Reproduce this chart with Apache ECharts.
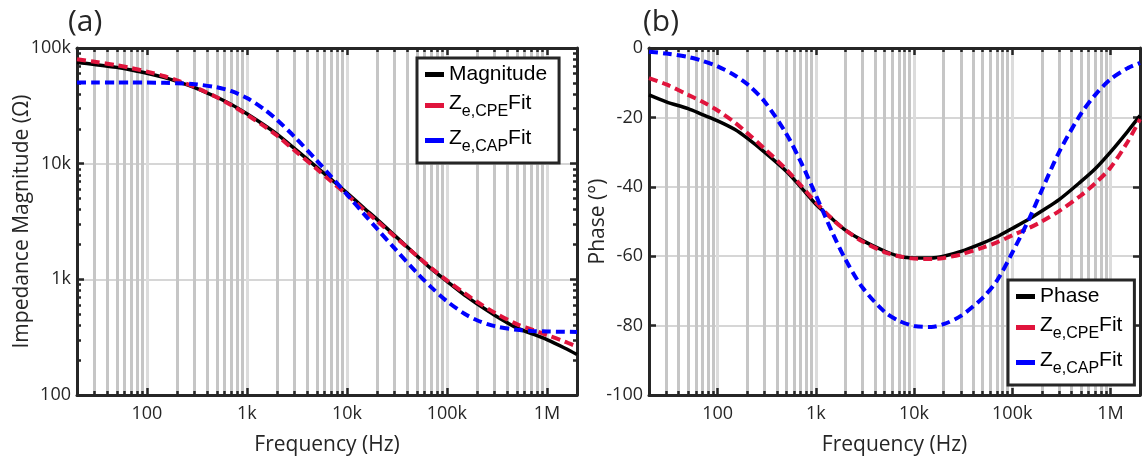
<!DOCTYPE html>
<html><head><meta charset="utf-8">
<script src="https://cdn.jsdelivr.net/npm/echarts@6/dist/echarts.min.js"></script>
<style>html,body{margin:0;padding:0;background:#fff}#c{width:1143px;height:464px}</style>
</head><body><div id="c"></div>
<script>
// ---- data ----
const frequencyHz = [20, 30, 50, 70, 100, 150, 200, 300, 500, 700, 1000, 1500, 2000, 3000, 5000, 7000, 10000, 15000, 20000, 30000, 50000, 70000, 100000, 150000, 200000, 300000, 500000, 700000, 1000000, 1500000, 2000000];
const magnitudeOhm = [75000, 72000, 68000, 64500, 60500, 55500, 51500, 45500, 37500, 32500, 27000, 21500, 18000, 13500, 9300, 7300, 5600, 4100, 3300, 2400, 1600, 1230, 960, 730, 615, 490, 380, 340, 301, 255, 224];
const cpeFitMagnitudeOhm = [80000, 76000, 71000, 67000, 62500, 57000, 52500, 46000, 37500, 32000, 26500, 21000, 17500, 13000, 9000, 7000, 5400, 3950, 3200, 2350, 1600, 1250, 980, 760, 640, 515, 410, 370, 330, 290, 262];
const capFitMagnitudeOhm = [50400, 50400, 50300, 50300, 50200, 49950, 49600, 48700, 45700, 42300, 36960, 29400, 23900, 17060, 10640, 7690, 5420, 3630, 2740, 1850, 1140, 852, 647, 504, 443, 394, 366, 358, 354, 352, 351];
const phaseDeg = [-13.5, -15.5, -17.5, -19.2, -21, -23.5, -26, -30, -35.5, -40, -45, -49.5, -52.5, -55.5, -58.5, -60, -60.5, -60.5, -60, -58.6, -56.2, -54.4, -52, -49.2, -47, -43.7, -38.5, -34.8, -30, -24, -19.5];
const cpeFitPhaseDeg = [-8.7, -10.5, -13.5, -15.5, -18, -21.5, -24.5, -29, -35, -39.5, -44.5, -49.5, -52.5, -55.8, -58.8, -60, -60.7, -60.8, -60.5, -59.5, -57.5, -56, -54, -51.8, -50, -47, -42.5, -39, -34.5, -27, -20.5];
const capFitPhaseDeg = [-1.05, -1.6, -2.6, -3.7, -5.3, -7.9, -10.4, -15.4, -24.7, -32.7, -42.4, -53.7, -60.9, -69.1, -76, -78.6, -80.1, -80.4, -79.6, -77.2, -72, -67, -59, -49, -41, -30, -19, -13.5, -9, -5.8, -4.3];
const frequencyTickLabels = {100: '100', 1000: '1k', 10000: '10k', 100000: '100k', 1000000: '1M'};
const magnitudeTickLabels = {100: '100', 1000: '1k', 10000: '10k', 100000: '100k'};
const panelTitles = ['(a)', '(b)'];

// ---- styles ----
const AX = '#262626';
const FONT = '"Open Sans", "Noto Sans", sans-serif';
const LEGFONT = '"Liberation Sans", Arial, sans-serif';
const RED = '#e0143c', BLUE = '#0000ff';
function pick(map) { return v => { for (const key in map) { if (Math.abs(+key - v) / +key < 1e-6) return map[key]; } return ''; }; }

function freqAxis(gridIndex, top) {
  return {
    type: 'log', logBase: 10, gridIndex, min: 20, max: 2000000,
    position: top ? 'top' : 'bottom',
    axisLine: {show: true, onZero: false, lineStyle: {color: AX, width: 3}},
    axisTick: {show: true, inside: true, length: 7, lineStyle: {color: AX, width: 2.5}},
    minorTick: {show: true, splitNumber: 9, length: 4, lineStyle: {color: AX, width: 2.5}},
    splitLine: {show: !top, lineStyle: {color: '#dcdcdc', width: 3}},
    minorSplitLine: {show: !top, lineStyle: {color: '#c6c6c6', width: 3}},
    axisLabel: {show: !top, formatter: pick(frequencyTickLabels), fontFamily: FONT, fontSize: 18, color: AX, margin: 10},
    name: top ? '' : 'Frequency (Hz)', nameLocation: 'middle', nameGap: 40,
    nameTextStyle: {fontFamily: FONT, fontSize: 21, color: AX}
  };
}
function magAxis(right) {
  return {
    type: 'log', logBase: 10, gridIndex: 0, min: 100, max: 100000,
    position: right ? 'right' : 'left',
    axisLine: {show: true, onZero: false, lineStyle: {color: AX, width: 3}},
    axisTick: {show: true, inside: true, length: 7, lineStyle: {color: AX, width: 2.5}},
    minorTick: {show: true, splitNumber: 9, length: 4, lineStyle: {color: AX, width: 2.5}},
    splitLine: {show: !right, lineStyle: {color: '#d6d6d6', width: 2}},
    axisLabel: {show: !right, formatter: pick(magnitudeTickLabels), fontFamily: FONT, fontSize: 18, color: AX, margin: 6},
    name: right ? '' : 'Impedance Magnitude (Ω)', nameLocation: 'middle', nameGap: 44, nameMoveOverlap: false,
    nameTextStyle: {fontFamily: FONT, fontSize: 21, color: AX}
  };
}
function phaseAxis(right) {
  return {
    type: 'value', gridIndex: 1, min: -100, max: 0, interval: 20,
    position: right ? 'right' : 'left',
    axisLine: {show: true, onZero: false, lineStyle: {color: AX, width: 3}},
    axisTick: {show: true, inside: true, length: 7, lineStyle: {color: AX, width: 2.5}},
    splitLine: {show: !right, lineStyle: {color: '#d6d6d6', width: 2}},
    axisLabel: {show: !right, fontFamily: FONT, fontSize: 18, color: AX, margin: 6},
    name: right ? '' : 'Phase (°)', nameLocation: 'middle', nameGap: 40, nameMoveOverlap: false,
    nameTextStyle: {fontFamily: FONT, fontSize: 21, color: AX}
  };
}
function pairs(ys) { return frequencyHz.map((f, i) => [f, ys[i]]); }
function line(name, xi, yi, ys, color, dashed, w) {
  return {
    name, type: 'line', xAxisIndex: xi, yAxisIndex: yi, data: pairs(ys),
    showSymbol: false, symbol: 'none', smooth: 0.3, animation: false, z: dashed ? 3 : 2,
    lineStyle: {color, width: w, type: dashed ? [9, 5] : 'solid'}, itemStyle: {color}
  };
}
const legendLabels = {
  'Magnitude': '{m|Magnitude}', 'Phase': '{m|Phase}',
  'Ze,CPE Fit (magnitude)': '{z|Z}{s|e,CPE}{z|Fit}', 'Ze,CAP Fit (magnitude)': '{z|Z}{s|e,CAP}{z|Fit}',
  'Ze,CPE Fit (phase)': '{z|Z}{s|e,CPE}{z|Fit}', 'Ze,CAP Fit (phase)': '{z|Z}{s|e,CAP}{z|Fit}'
};
function legend(names, left, top) {
  return {
    data: names, left, top, orient: 'vertical', selectedMode: false,
    backgroundColor: '#fff', borderColor: AX, borderWidth: 3, borderRadius: 0,
    padding: [6, 12, 8, 8], itemGap: 8, icon: 'rect', itemWidth: 19, itemHeight: 5,
    formatter: n => legendLabels[n],
    textStyle: {fontFamily: LEGFONT, color: '#000', fontSize: 21, rich: {
      m: {fontFamily: LEGFONT, fontSize: 21, color: '#000'},
      z: {fontFamily: LEGFONT, fontSize: 21, color: '#000', padding: [0, 0, 4, 0]},
      s: {fontFamily: LEGFONT, fontSize: 16, color: '#000', padding: [13, 0, 0, 0]}
    }}
  };
}
const chart = echarts.init(document.getElementById('c'), null, {renderer: 'canvas'});
chart.setOption({
  backgroundColor: '#fff', animation: false,
  title: [
    {text: panelTitles[0], left: 63, top: 2, textStyle: {fontFamily: FONT, fontSize: 30, fontWeight: 'normal', color: AX}},
    {text: panelTitles[1], left: 638, top: 2, textStyle: {fontFamily: FONT, fontSize: 30, fontWeight: 'normal', color: AX}}
  ],
  grid: [
    {left: 77, top: 48, width: 500, height: 347},
    {left: 649, top: 48, width: 500, height: 347}
  ],
  xAxis: [freqAxis(0, false), freqAxis(0, true), freqAxis(1, false), freqAxis(1, true)],
  yAxis: [magAxis(false), magAxis(true), phaseAxis(false), phaseAxis(true)],
  legend: [
    legend(['Magnitude', 'Ze,CPE Fit (magnitude)', 'Ze,CAP Fit (magnitude)'], 417, 58),
    legend(['Phase', 'Ze,CPE Fit (phase)', 'Ze,CAP Fit (phase)'], 1008, 280)
  ],
  series: [
    line('Magnitude', 0, 0, magnitudeOhm, '#000', false, 3.5),
    line('Ze,CPE Fit (magnitude)', 0, 0, cpeFitMagnitudeOhm, RED, true, 4),
    line('Ze,CAP Fit (magnitude)', 0, 0, capFitMagnitudeOhm, BLUE, true, 4),
    line('Phase', 2, 2, phaseDeg, '#000', false, 3.5),
    line('Ze,CPE Fit (phase)', 2, 2, cpeFitPhaseDeg, RED, true, 4),
    line('Ze,CAP Fit (phase)', 2, 2, capFitPhaseDeg, BLUE, true, 4)
  ]
});
</script></body></html>
